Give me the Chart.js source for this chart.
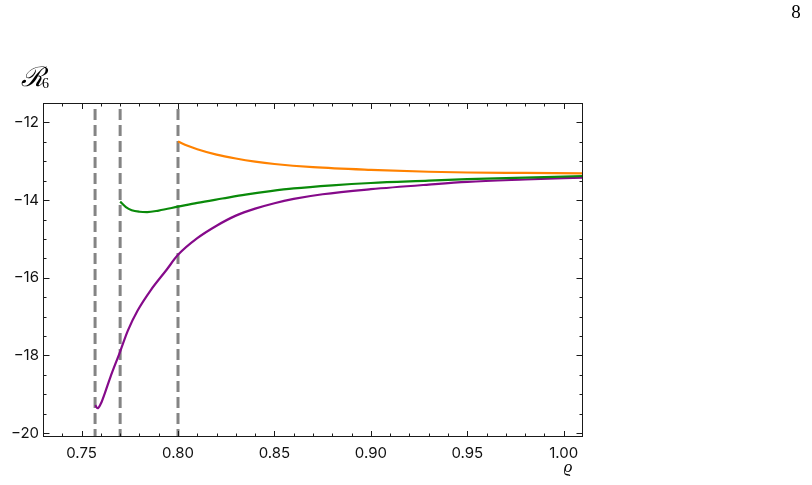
<!DOCTYPE html>
<html>
<head>
<meta charset="utf-8">
<script src="https://cdn.jsdelivr.net/npm/chart.js@4/dist/chart.umd.min.js"></script>
<style>
html,body{margin:0;padding:0;background:#fff;}
#wrap{position:relative;width:812px;height:485px;}
</style>
</head>
<body>
<div id="wrap"><canvas id="c"></canvas></div>
<script>
// ---- data ----
const rhoOrange = [0.800, 0.805, 0.810, 0.820, 0.830, 0.840, 0.850, 0.870, 0.900, 0.930, 0.950, 0.980, 1.010];
const valOrange = [-12.49, -12.60, -12.69, -12.83, -12.93, -13.01, -13.07, -13.15, -13.22, -13.27, -13.29, -13.30, -13.31];

const rhoGreen = [0.770, 0.773, 0.776, 0.780, 0.784, 0.790, 0.800, 0.810, 0.823, 0.835, 0.848, 0.860, 0.880, 0.900, 0.930, 0.950, 0.980, 1.010];
const valGreen = [-14.04, -14.18, -14.26, -14.30, -14.31, -14.27, -14.17, -14.07, -13.96, -13.86, -13.77, -13.70, -13.62, -13.56, -13.50, -13.46, -13.42, -13.38];

const rhoPurple = [0.7571, 0.7583, 0.760, 0.762, 0.765, 0.770, 0.774, 0.779, 0.786, 0.794, 0.800, 0.810, 0.820, 0.830, 0.840, 0.850, 0.860, 0.875, 0.900, 0.930, 0.950, 0.980, 1.010];
const valPurple = [-19.28, -19.36, -19.24, -18.98, -18.55, -17.90, -17.36, -16.85, -16.31, -15.80, -15.41, -14.98, -14.66, -14.40, -14.22, -14.08, -13.97, -13.85, -13.72, -13.60, -13.53, -13.47, -13.42];

const criticalRho = [0.757, 0.770, 0.800];

const xTickLabels = [0.75, 0.80, 0.85, 0.90, 0.95, 1.00];
const yTickLabels = [-12, -14, -16, -18, -20];
const xMinorTicks = [0.74,0.76,0.77,0.78,0.79,0.81,0.82,0.83,0.84,0.86,0.87,0.88,0.89,0.91,0.92,0.93,0.94,0.96,0.97,0.98,0.99];
const yMinorTicks = [-11.5,-12.5,-13,-13.5,-14.5,-15,-15.5,-16.5,-17,-17.5,-18.5,-19,-19.5];

const xRange = [0.73, 1.01];
const yRange = [-20.1, -11.5];

// ---- build datasets ----
function pts(xs, ys){ return xs.map((x,i)=>({x:x, y:ys[i]})); }
const curve = (data, color) => ({data, borderColor: color, borderWidth: 2.2, pointRadius: 0, fill: false, cubicInterpolationMode: 'monotone', order: 1});
const datasets = [];
criticalRho.forEach(r => datasets.push({
  data: [{x:r, y:yRange[1]}, {x:r, y:yRange[0]}],
  borderColor: '#848484', borderWidth: 3, borderDash: [11,5], borderDashOffset: 10,
  pointRadius: 0, fill: false, tension: 0, order: 2
}));
datasets.push(curve(pts(rhoOrange, valOrange), '#ff8200'));
datasets.push(curve(pts(rhoGreen, valGreen), '#0a8a0a'));
datasets.push(curve(pts(rhoPurple, valPurple), '#850a8a'));

const fmtMinus = v => (v < 0 ? '\u2212' + Math.abs(v) : String(v));

const framePlugin = {
  id: 'frame',
  afterDatasetsDraw(chart){
    const {ctx, chartArea: a, scales: {x, y}} = chart;
    ctx.save();
    ctx.strokeStyle = '#1a1a1a';
    ctx.lineWidth = 1;
    ctx.strokeRect(a.left + 0.5, a.top + 0.5, a.right - a.left - 1, a.bottom - a.top - 1);
    ctx.beginPath();
    const xt = (v, L) => {
      const p = Math.round(x.getPixelForValue(v)) + 0.5;
      ctx.moveTo(p, a.bottom); ctx.lineTo(p, a.bottom - L);
      ctx.moveTo(p, a.top); ctx.lineTo(p, a.top + L);
    };
    const yt = (v, L) => {
      const p = Math.round(y.getPixelForValue(v)) + 0.5;
      ctx.moveTo(a.left, p); ctx.lineTo(a.left + L, p);
      ctx.moveTo(a.right, p); ctx.lineTo(a.right - L, p);
    };
    xTickLabels.forEach(v => xt(v, 6));
    xMinorTicks.forEach(v => xt(v, 3.5));
    yTickLabels.forEach(v => yt(v, 6.5));
    yMinorTicks.forEach(v => yt(v, 3.5));
    ctx.stroke();

    // axis labels and page number
    ctx.fillStyle = '#000';
    ctx.textBaseline = 'alphabetic';
    ctx.textAlign = 'left';
    ctx.font = 'italic 27px "DejaVu Serif", "Liberation Serif", serif';
    ctx.fillText('\u211B', 21, 86);
    ctx.font = '14px "Liberation Serif", "DejaVu Serif", serif';
    ctx.fillText('6', 42, 88);
    ctx.font = 'italic 17px "Liberation Serif", "DejaVu Serif", serif';
    ctx.textAlign = 'center';
    ctx.fillText('\u03F1', 568, 472);
    ctx.font = '19px "Liberation Serif", serif';
    ctx.fillText('8', 796, 18);
    ctx.restore();
  }
};

new Chart(document.getElementById('c'), {
  type: 'line',
  data: {datasets},
  options: {
    responsive: true,
    maintainAspectRatio: false,
    animation: false,
    events: [],
    layout: {padding: {left: 0, top: 103, right: 229, bottom: 0}},
    plugins: {legend: {display: false}, tooltip: {enabled: false}, title: {display: false}},
    scales: {
      x: {
        type: 'linear', min: xRange[0], max: xRange[1],
        grid: {display: false, drawTicks: false},
        border: {display: false},
        afterBuildTicks: s => { s.ticks = xTickLabels.map(v => ({value: v})); },
        afterFit: s => { s.height = 48; },
        ticks: {
          padding: 7, color: '#111', maxRotation: 0, autoSkip: false,
          font: {family: 'Inter, "DejaVu Sans", sans-serif', size: 15},
          callback: v => Number(v).toFixed(2)
        }
      },
      y: {
        type: 'linear', min: yRange[0], max: yRange[1],
        grid: {display: false, drawTicks: false},
        border: {display: false},
        afterBuildTicks: s => { s.ticks = yTickLabels.map(v => ({value: v})); },
        afterFit: s => { s.width = 43; },
        ticks: {
          padding: 4, color: '#111', autoSkip: false,
          font: {family: 'Inter, "DejaVu Sans", sans-serif', size: 15},
          callback: v => fmtMinus(v)
        }
      }
    }
  },
  plugins: [framePlugin]
});
</script>
</body>
</html>
